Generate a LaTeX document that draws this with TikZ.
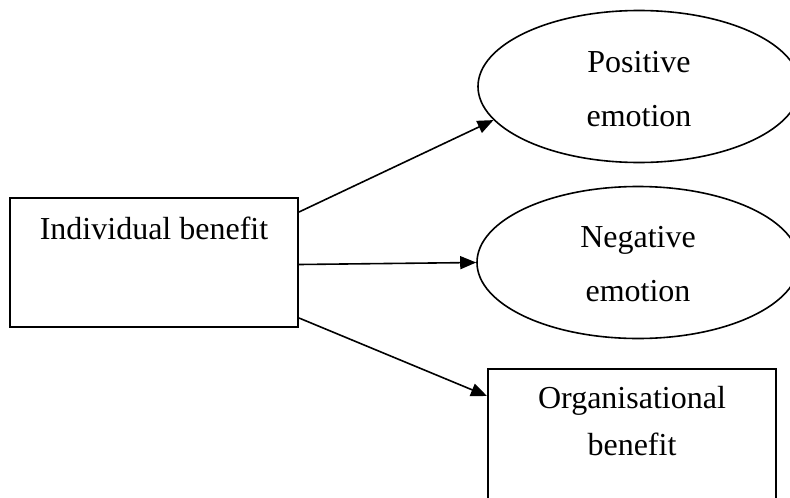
\documentclass[tikz,border=0pt]{standalone}
\usepackage{fontspec}
\setmainfont{Liberation Serif}
\usetikzlibrary{shapes.geometric,arrows.meta,calc}
\begin{document}
\begin{tikzpicture}[x=1pt,y=-1pt,
  boxline/.style={draw,line width=2pt,inner sep=0pt},
  ell/.style={ellipse,draw,line width=1.6pt,inner sep=0pt,align=center,
    font={\fontsize{32}{54}\selectfont}},
  txt/.style={inner sep=0pt,align=center,font={\fontsize{32}{47}\selectfont}},
  conn/.style={line width=1.6pt,-{Triangle[length=16pt,width=13pt]}}]
\useasboundingbox (0,0) rectangle (790,498);
\clip (0,0) rectangle (790,498);
\node[boxline,minimum width=288pt,minimum height=129pt] (ind) at (154,262.5) {};
\node[txt,anchor=base] (indT) at (154,239) {Individual benefit};
\node[ell,minimum width=322pt,minimum height=152pt] (pos) at (639,86.5) {\rule{0pt}{27pt}Positive\\emotion};
\node[ell,minimum width=322pt,minimum height=152pt] (neg) at (638,262.5) {\rule{0pt}{25pt}Negative\\emotion};
\node[boxline,minimum width=288pt,minimum height=170pt] (org) at (632,454) {};
\node[txt,anchor=base] (orgT) at (632,455) {Organisational\\benefit};
\draw[conn] ($(ind.north east)+(0,15)$) -- (pos.193.5);
\draw[conn] ($(ind.east)+(0,2)$) -- (neg.west);
\draw[conn] ($(ind.south east)+(0,-10)$) -- ($(org.north west)+(0,28)$);
\end{tikzpicture}
\end{document}
